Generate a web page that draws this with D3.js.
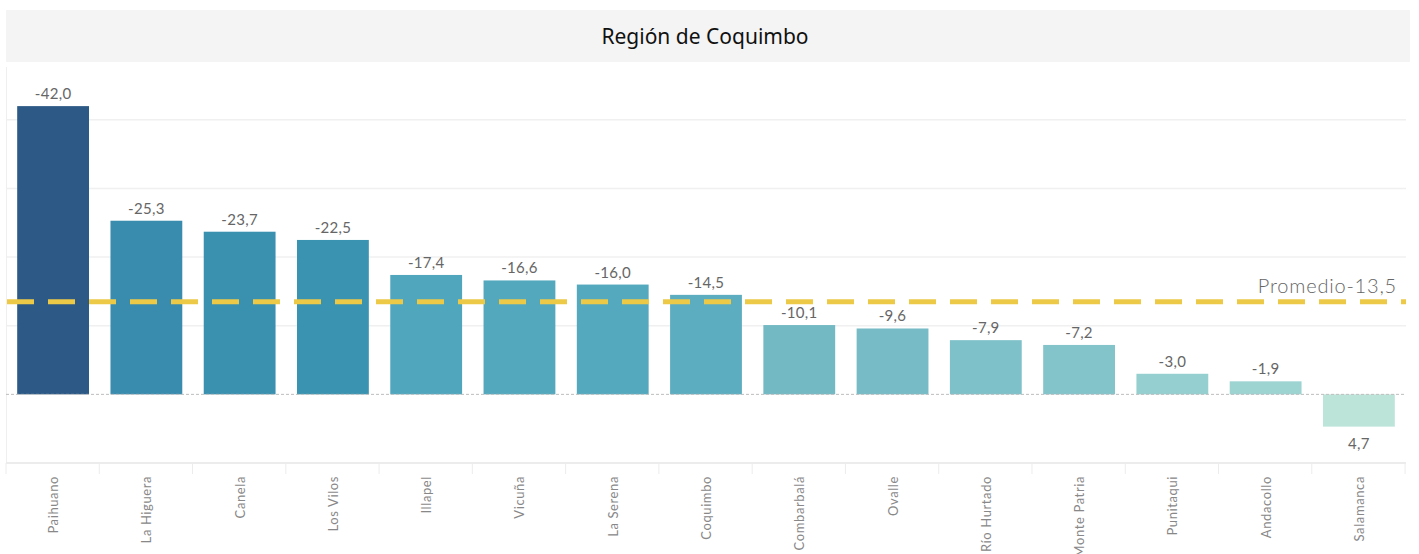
<!DOCTYPE html>
<html>
<head>
<meta charset="utf-8">
<script src="https://cdn.jsdelivr.net/npm/d3@7"></script>
<style>
  body { margin: 0; background: #fff; }
  svg { display: block; font-family: Lato, "Open Sans", sans-serif; }
</style>
</head>
<body>
<svg width="1419" height="554"></svg>
<script>
const comunas = ["Paihuano", "La Higuera", "Canela", "Los Vilos", "Illapel", "Vicuña", "La Serena",
                 "Coquimbo", "Combarbalá", "Ovalle", "Río Hurtado", "Monte Patria", "Punitaqui",
                 "Andacollo", "Salamanca"];
const valores = [-42.0, -25.3, -23.7, -22.5, -17.4, -16.6, -16.0, -14.5, -10.1, -9.6, -7.9, -7.2, -3.0, -1.9, 4.7];
const promedio = -13.5;
const gridTicks = [-40, -30, -20, -10];
const titulo = "Región de Coquimbo";

const svg = d3.select("svg");
const fmt = v => d3.format(".1f")(v).replace(".", ",").replace("−", "-");

// title bar
svg.append("rect")
  .attr("x", 6).attr("y", 10)
  .attr("width", 1404).attr("height", 52)
  .attr("fill", "#f4f4f4");
svg.append("text")
  .attr("x", 705).attr("y", 44)
  .attr("text-anchor", "middle")
  .attr("font-family", "'Noto Sans', sans-serif")
  .attr("font-size", "21px")
  .attr("fill", "#111")
  .text(titulo);

const plotLeft = 6, plotRight = 1406, plotTop = 67, plotBottom = 463;

const x = d3.scaleBand()
  .domain(comunas)
  .range([plotLeft, plotRight])
  .paddingInner(0.23)
  .paddingOuter(0.12);

// negative values go up
const y = d3.scaleLinear()
  .domain([-47.7, 10])
  .range([plotTop, plotBottom]);

const color = d3.scaleLinear()
  .domain([-42, -25.3, -22.5, -17.4, -14.5, -10.1, -7.2, -3.0, -1.9, 4.7])
  .range(["#2c5985", "#3a8cae", "#3a93b0", "#4fa6bd", "#5cadc0", "#73b9c4", "#83c4cb", "#96cfcf", "#9dd3d1", "#bce4d9"]);

// grid
svg.append("g").selectAll("line").data(gridTicks).enter().append("line")
  .attr("x1", plotLeft).attr("x2", plotRight)
  .attr("y1", d => y(d)).attr("y2", d => y(d))
  .attr("stroke", "#f0f0f0").attr("stroke-width", 1.5);

// plot frame left + bottom
svg.append("line")
  .attr("x1", plotLeft + 0.5).attr("x2", plotLeft + 0.5)
  .attr("y1", plotTop).attr("y2", plotBottom)
  .attr("stroke", "#efefef");
svg.append("line")
  .attr("x1", plotLeft).attr("x2", plotRight)
  .attr("y1", plotBottom).attr("y2", plotBottom)
  .attr("stroke", "#ececec").attr("stroke-width", 2);

// category separators under axis
const step = x.step();
svg.append("g").selectAll("line").data(d3.range(comunas.length + 1)).enter().append("line")
  .attr("x1", i => plotLeft + i * step).attr("x2", i => plotLeft + i * step)
  .attr("y1", plotBottom).attr("y2", plotBottom + 11)
  .attr("stroke", "#ececec");

// bars
svg.append("g").selectAll("rect").data(valores).enter().append("rect")
  .attr("x", (d, i) => x(comunas[i]))
  .attr("width", x.bandwidth())
  .attr("y", d => Math.min(y(d), y(0)))
  .attr("height", d => Math.abs(y(d) - y(0)))
  .attr("fill", d => color(d));

// zero line
svg.append("line")
  .attr("x1", plotLeft).attr("x2", plotRight)
  .attr("y1", y(0)).attr("y2", y(0))
  .attr("stroke", "#bdbdbd")
  .attr("stroke-dasharray", "3,2");

// value labels
svg.append("g").selectAll("text").data(valores).enter().append("text")
  .attr("x", (d, i) => x(comunas[i]) + x.bandwidth() / 2)
  .attr("y", d => d < 0 ? y(d) - 7 : y(d) + 22)
  .attr("text-anchor", "middle")
  .attr("font-size", "15px")
  .attr("letter-spacing", "0.3px")
  .attr("fill", "#666")
  .text(d => fmt(d));

// average line
svg.append("line")
  .attr("x1", plotLeft + 1).attr("x2", plotRight)
  .attr("y1", y(promedio)).attr("y2", y(promedio))
  .attr("stroke", "#edc948")
  .attr("stroke-width", 5)
  .attr("stroke-dasharray", "27,14");
svg.append("text")
  .attr("x", 1397).attr("y", y(promedio) - 9)
  .attr("text-anchor", "end")
  .attr("font-size", "20px")
  .attr("font-weight", 300)
  .attr("letter-spacing", "0.8px")
  .attr("fill", "#666")
  .text("Promedio" + fmt(promedio));

// x axis labels
svg.append("g").selectAll("text").data(comunas).enter().append("text")
  .attr("transform", d => `translate(${x(d) + x.bandwidth() / 2 + 5}, ${plotBottom + 13}) rotate(-90)`)
  .attr("text-anchor", "end")
  .attr("font-size", "13px")
  .attr("letter-spacing", "0.6px")
  .attr("fill", "#888")
  .text(d => d);
</script>
</body>
</html>
